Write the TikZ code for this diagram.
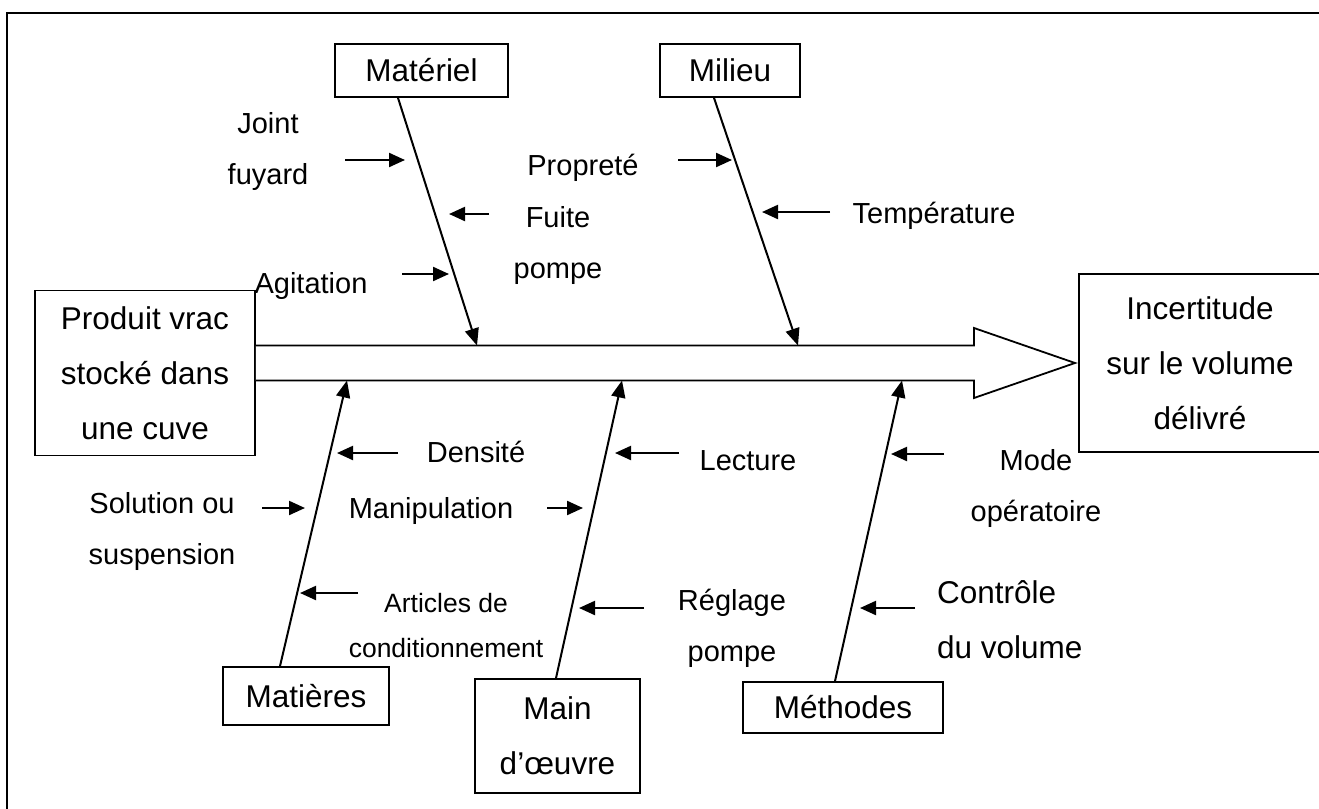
\documentclass[tikz,border=0pt]{standalone}
\usepackage{fontspec}
\setmainfont{Liberation Sans}
\usetikzlibrary{arrows.meta}
\begin{document}
\begin{tikzpicture}[x=1pt,y=-1pt,
  box/.style={draw,line width=1.8pt,inner sep=0pt,align=center,font=\fontsize{31.5}{55}\selectfont},
  lbl/.style={inner sep=0pt,align=center,font=\fontsize{29}{51}\selectfont},
  big/.style={inner sep=0pt,align=center,font=\fontsize{31.5}{55}\selectfont},
  small/.style={inner sep=0pt,align=center,font=\fontsize{26.5}{45}\selectfont},
  bone/.style={line width=2pt,-{Triangle[length=17pt,width=14pt]}},
  cause/.style={line width=2.2pt,-{Triangle[length=16pt,width=14pt]}},
  shaft/.style={line width=1.8pt,fill=white}
]
\useasboundingbox (0,0) rectangle (1319,808);
\clip (0,0) rectangle (1319,808);
\fill[white] (0,0) rectangle (1319,808);
\draw[line width=1.8pt] (1330,13) -- (7,13) -- (7,820);

% boxes
\node[box,minimum width=173pt,minimum height=53pt] (mat) at (421.5,70.5) {Matériel};
\node[box,minimum width=140pt,minimum height=53pt] (mil) at (730,70.5) {Milieu};
\node[box,minimum width=220pt,minimum height=158pt] (prod) at (145,373) {\strut Produit vrac\\\strut stocké dans\\\strut une cuve};
\node[box,minimum width=242pt,minimum height=178pt] (inc) at (1200,363) {\strut Incertitude\\\strut sur le volume\\\strut délivré};
\node[box,minimum width=166pt,minimum height=58pt] (mati) at (306,696) {Matières};
\node[box,minimum width=165pt,minimum height=114pt] (main) at (557.5,736) {\strut Main\\\strut d’œuvre};
\node[box,minimum width=200pt,minimum height=51pt] (meth) at (843,707.5) {Méthodes};

% main arrow
\coordinate (tip) at (1075,363);
\draw[shaft] (prod.east |- 0,345.5) -- (974,345.5) -- (974,328) -- (tip) -- (974,398) -- (974,380.5) -- (prod.east |- 0,380.5);

% bones
\coordinate (s1) at (477,345.5);
\coordinate (s2) at (798,345.5);
\coordinate (s3) at (347,380.5);
\coordinate (s4) at (622,380.5);
\coordinate (s5) at (902,380.5);
\draw[bone] ([xshift=-23.5pt]mat.south) -- (s1);
\draw[bone] ([xshift=-16pt]mil.south) -- (s2);
\draw[bone] ([xshift=-26pt]mati.north) -- (s3);
\draw[bone] ([xshift=-1.5pt]main.north) -- (s4);
\draw[bone] ([xshift=-8pt]meth.north) -- (s5);

% labels
\node[lbl] (joint) at (268,149) {\strut Joint\\\strut fuyard};
\node[lbl] (propre) at (583,165) {\strut Propreté};
\node[lbl] (fuite) at (558,242.5) {\strut Fuite\\\strut pompe};
\node[lbl] (agit) at (311,283) {\strut Agitation};
\node[lbl] (temp) at (934,213) {\strut Température};
\node[lbl] (dens) at (476,452) {\strut Densité};
\node[lbl] (lect) at (748,460) {\strut Lecture};
\node[lbl] (mode) at (1036,486) {\strut Mode\\\strut opératoire};
\node[lbl] (sol) at (162,528.5) {\strut Solution ou\\\strut suspension};
\node[lbl] (manip) at (431,508) {\strut Manipulation};
\node[small] (art) at (446,625.5) {\strut Articles de\\\strut conditionnement};
\node[lbl] (regl) at (732,626) {\strut Réglage\\\strut pompe};
\node[big,anchor=west,align=left] (ctrl) at (937,619.5) {\strut Contrôle\\\strut du volume};

% cause arrows
\draw[cause] (345,160) -- (405,160);
\draw[cause] (489,214) -- (449,214);
\draw[cause] (402,274) -- (449,274);
\draw[cause] (678,160) -- (732,160);
\draw[cause] (830,212) -- (762,212);
\draw[cause] (398,453) -- (337,453);
\draw[cause] (262,508) -- (305,508);
\draw[cause] (358,593) -- (300,593);
\draw[cause] (547,508) -- (583,508);
\draw[cause] (679,453) -- (615,453);
\draw[cause] (644,608) -- (579,608);
\draw[cause] (944,454) -- (891,454);
\draw[cause] (915,608) -- (860,608);
\end{tikzpicture}
\end{document}
